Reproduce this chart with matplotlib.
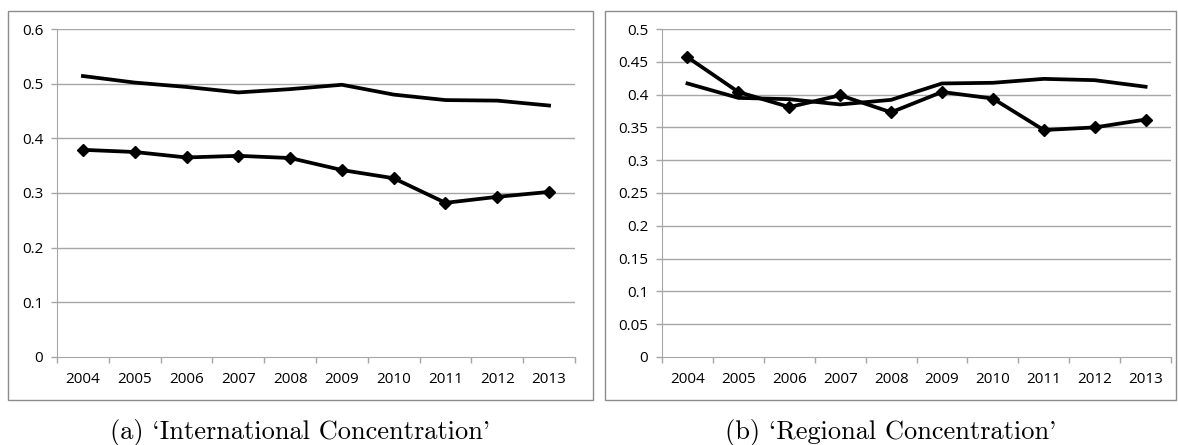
import matplotlib
matplotlib.use("Agg")
import matplotlib.pyplot as plt
from matplotlib.patches import Rectangle

# === DATA ===
years = ["2004", "2005", "2006", "2007", "2008", "2009", "2010", "2011", "2012", "2013"]

intl_plain = [0.514, 0.502, 0.494, 0.484, 0.490, 0.498, 0.480, 0.470, 0.469, 0.460]
intl_marked = [0.379, 0.375, 0.365, 0.368, 0.364, 0.342, 0.327, 0.282, 0.293, 0.302]

reg_plain = [0.417, 0.395, 0.393, 0.385, 0.392, 0.417, 0.418, 0.424, 0.422, 0.412]
reg_marked = [0.457, 0.404, 0.381, 0.399, 0.373, 0.404, 0.394, 0.346, 0.350, 0.362]

intl_ticks = [0, 0.1, 0.2, 0.3, 0.4, 0.5, 0.6]
intl_labels = ["0", "0.1", "0.2", "0.3", "0.4", "0.5", "0.6"]
reg_ticks = [0, 0.05, 0.1, 0.15, 0.2, 0.25, 0.3, 0.35, 0.4, 0.45, 0.5]
reg_labels = ["0", "0.05", "0.1", "0.15", "0.2", "0.25", "0.3", "0.35", "0.4", "0.45", "0.5"]

captions = ["(a) `International Concentration'", "(b) `Regional Concentration'"]

# === STYLE ===
TICK_FONT = ["Liberation Sans Narrow", "Open Sans", "DejaVu Sans"]
GRID = "#a6a6a6"
FRAME = "#8c8c8c"

fig = plt.figure(figsize=(11.78, 4.45), dpi=100)

# (plain, marked, ticks, labels, ymax, axes rect, frame rect) in figure fractions
panels = [
    (intl_plain, intl_marked, intl_ticks, intl_labels, 0.6,
     [0.0484, 0.1978, 0.4397, 0.737], [0.0068, 0.1011, 0.4966, 0.874]),
    (reg_plain, reg_marked, reg_ticks, reg_labels, 0.5,
     [0.5620, 0.1978, 0.4321, 0.737], [0.5136, 0.1011, 0.4850, 0.874]),
]

x = list(range(len(years)))

for i, (plain, marked, ticks, labels, ymax, ax_pos, box) in enumerate(panels):
    # chart frame
    fig.patches.append(Rectangle((box[0], box[1]), box[2], box[3], transform=fig.transFigure,
                                 fill=False, edgecolor=FRAME, linewidth=1.0))

    ax = fig.add_axes(ax_pos)
    ax.plot(x, plain, color="black", linewidth=2.7, solid_joinstyle="round", zorder=3)
    ax.plot(x, marked, color="black", linewidth=2.7, marker="D", markersize=6,
            solid_joinstyle="round", zorder=3)

    ax.set_xlim(-0.5, len(years) - 0.5)
    ax.set_ylim(0, ymax)
    ax.set_yticks(ticks)
    ax.set_yticklabels(labels, family=TICK_FONT, fontsize=11)
    ax.set_xticks(x)
    ax.set_xticklabels(years, family=TICK_FONT, fontsize=11)
    ax.set_xticks([k - 0.5 for k in range(len(years) + 1)], minor=True)

    ax.tick_params(axis="x", which="major", length=0, pad=11)
    ax.tick_params(axis="x", which="minor", length=4, color=GRID, width=1)
    ax.tick_params(axis="y", length=4, color=GRID, width=1, pad=6)

    for t in ticks[1:]:
        ax.axhline(t, color=GRID, linewidth=1, zorder=1)

    for side in ["top", "right"]:
        ax.spines[side].set_visible(False)
    ax.spines["left"].set_color(GRID)
    ax.spines["bottom"].set_color(GRID)

    # caption below the chart
    fig.text(box[0] + box[2] / 2, 0.029, captions[i], ha="center", va="center",
             family=["cmr10", "DejaVu Serif"], fontsize=19)

fig.savefig("out.png", dpi=100)
